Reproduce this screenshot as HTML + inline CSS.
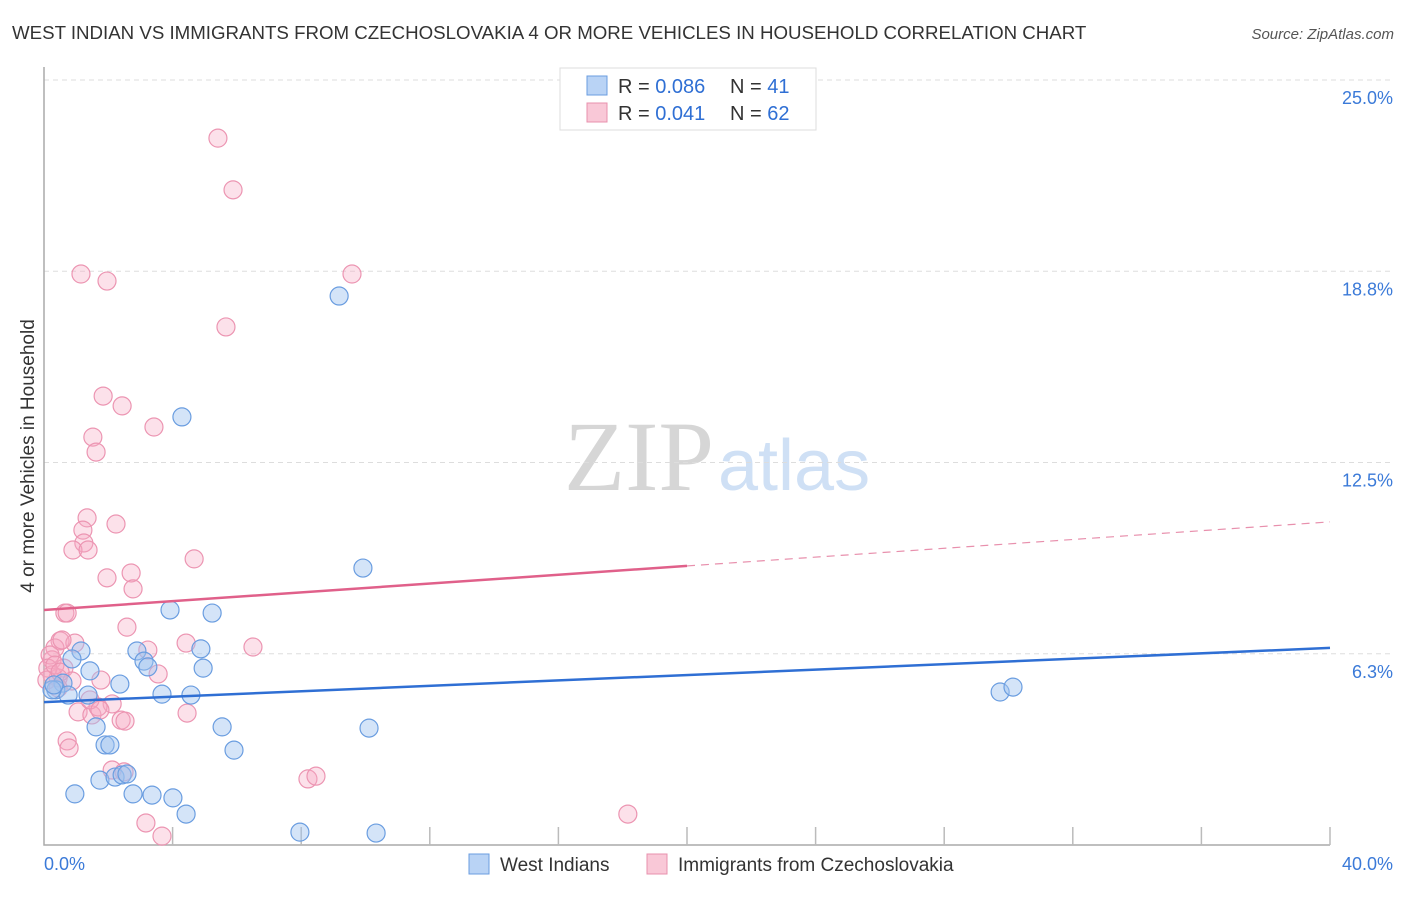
<!DOCTYPE html>
<html><head><meta charset="utf-8"><style>
body{margin:0;background:#fff;font-family:"Liberation Sans",sans-serif;}
</style></head><body>
<svg id="chart" width="1406" height="892" xmlns="http://www.w3.org/2000/svg" font-family="Liberation Sans, sans-serif">
<text x="12" y="39" font-size="18.7" fill="#333">WEST INDIAN VS IMMIGRANTS FROM CZECHOSLOVAKIA 4 OR MORE VEHICLES IN HOUSEHOLD CORRELATION CHART</text>
<text x="1394" y="39" font-size="15" fill="#555" font-style="italic" text-anchor="end">Source: ZipAtlas.com</text>
<text x="714" y="490" font-size="100" fill="#d6d6d6" style="font-family:'Liberation Serif',serif" text-anchor="end">ZIP</text>
<text x="718" y="490" font-size="72" fill="#cfe0f5">atlas</text>
<g id="grid"></g>
<g id="axes"></g>
<g id="marks"></g>
<text x="34" y="456" font-size="19" fill="#333" text-anchor="middle" transform="rotate(-90 34 456)">4 or more Vehicles in Household</text>
<g>
<rect x="560" y="68" width="256" height="62" fill="#fff" stroke="#ddd"/>
<rect x="587" y="76" width="20" height="19" fill="#b9d3f5" stroke="#6a9de0"/>
<rect x="587" y="103" width="20" height="19" fill="#f9c8d7" stroke="#e890ad"/>
<text x="618" y="93" font-size="20" fill="#333">R = <tspan fill="#2f6fd4">0.086</tspan></text>
<text x="730" y="93" font-size="20" fill="#333">N = <tspan fill="#2f6fd4">41</tspan></text>
<text x="618" y="120" font-size="20" fill="#333">R = <tspan fill="#2f6fd4"> 0.041</tspan></text>
<text x="730" y="120" font-size="20" fill="#333">N = <tspan fill="#2f6fd4">62</tspan></text>
</g>
<g>
<rect x="469" y="854" width="20" height="20" fill="#b9d3f5" stroke="#6a9de0"/>
<text x="500" y="871" font-size="19" fill="#333">West Indians</text>
<rect x="647" y="854" width="20" height="20" fill="#f9c8d7" stroke="#e890ad"/>
<text x="678" y="871" font-size="19" fill="#333">Immigrants from Czechoslovakia</text>
</g>
</svg>
<script>
const yTicks=[25,18.75,12.5,6.25];
const yTickLabels=["25.0%","18.8%","12.5%","6.3%"];
const xTicks=[4,8,12,16,20,24,28,32,36,40];
const blueX=[9.18,4.29,9.92,3.92,5.23,4.88,4.95,2.89,3.11,3.23,1.15,0.87,1.43,0.59,0.37,0.75,1.37,2.36,3.67,4.57,1.62,5.54,10.11,1.90,2.05,5.91,29.74,30.14,1.74,2.21,2.43,2.58,0.96,2.77,3.36,4.01,4.42,7.96,10.33,0.25,0.31];
const blueY=[17.94,13.99,9.05,7.68,7.58,6.41,5.78,6.34,6.01,5.82,6.34,6.08,5.69,5.29,5.07,4.90,4.90,5.26,4.93,4.90,3.86,3.86,3.82,3.27,3.27,3.10,5.0,5.16,2.12,2.22,2.29,2.32,1.67,1.67,1.63,1.54,1.01,0.42,0.39,5.07,5.23];
const pinkX=[5.41,5.88,1.15,1.96,9.58,5.66,1.84,2.43,1.52,1.62,3.42,1.34,2.24,1.21,1.24,0.90,1.37,2.71,2.77,1.96,4.67,0.65,0.72,2.58,3.23,4.42,6.50,0.50,0.96,0.34,0.25,0.62,0.25,0.44,0.87,1.77,3.55,1.06,1.49,2.12,1.68,2.40,2.52,4.45,0.72,0.78,2.12,2.49,8.21,8.46,18.16,3.17,3.67,0.19,0.12,0.09,0.34,0.50,0.44,0.56,1.43,1.74];
const pinkY=[23.10,21.41,18.66,18.43,18.66,16.93,14.67,14.35,13.33,12.84,13.66,10.69,10.49,10.29,9.87,9.64,9.64,8.89,8.37,8.73,9.35,7.58,7.58,7.12,6.37,6.60,6.47,6.67,6.60,6.44,6.05,5.78,5.56,5.46,5.36,5.39,5.59,4.35,4.25,4.61,4.51,4.08,4.05,4.31,3.40,3.17,2.45,2.39,2.16,2.25,1.01,0.72,0.29,6.21,5.78,5.39,5.88,5.65,5.13,6.70,4.74,4.41];
const blueTrend=[4.67,6.44];
const pinkTrend=[7.68,10.56];
const pinkSolidEnd=20;
const NS="http://www.w3.org/2000/svg";
const sx=v=>44+v*(1286/40);
const sy=v=>845-v*30.6;
function mk(tag,attrs,parent){const e=document.createElementNS(NS,tag);for(const k in attrs)e.setAttribute(k,attrs[k]);parent.appendChild(e);return e;}
const grid=document.getElementById('grid'),axes=document.getElementById('axes'),marks=document.getElementById('marks');
yTicks.forEach((t,i)=>{
 const l=mk('line',{x1:44,x2:1394,y1:sy(t),y2:sy(t),stroke:'#ddd','stroke-dasharray':'5,4'},grid);
 
 
 const tx=mk('text',{x:1393,y:sy(t)+24,'font-size':18,fill:'#3b7ad8','text-anchor':'end'},axes);
 tx.textContent=yTickLabels[i];
 
 
});
const ax=mk('path',{d:`M44 67 V${sy(0)} H${sx(40)}`,fill:'none',stroke:'#aaa','stroke-width':1.5},axes);


xTicks.forEach(t=>{
 const l=mk('line',{x1:sx(t),x2:sx(t),y1:sy(0)-18,y2:sy(0),stroke:'#bbb','stroke-width':1.5},axes);
 
 
});
const xl0=mk('text',{x:44,y:870,'font-size':18,fill:'#3b7ad8'},axes);xl0.textContent='0.0%';


const xl1=mk('text',{x:1393,y:870,'font-size':18,fill:'#3b7ad8','text-anchor':'end'},axes);xl1.textContent='40.0%';


pinkX.forEach((x,i)=>{
 const c=mk('circle',{cx:sx(x),cy:sy(pinkY[i]),r:9,fill:'rgba(245,170,195,0.35)',stroke:'#ec95b2','stroke-width':1.2},marks);
 
 
});
blueX.forEach((x,i)=>{
 const c=mk('circle',{cx:sx(x),cy:sy(blueY[i]),r:9,fill:'rgba(160,196,240,0.45)',stroke:'#6a9de0','stroke-width':1.2},marks);
 
 
});
const pm=pinkTrend[0]+(pinkTrend[1]-pinkTrend[0])*pinkSolidEnd/40;
const p1=mk('line',{x1:sx(0),y1:sy(pinkTrend[0]),x2:sx(pinkSolidEnd),y2:sy(pm),stroke:'#e0608a','stroke-width':2.5},marks);


const p2=mk('line',{x1:sx(pinkSolidEnd),y1:sy(pm),x2:sx(40),y2:sy(pinkTrend[1]),stroke:'#e890ad','stroke-width':1.2,'stroke-dasharray':'8,6'},marks);


const b1=mk('line',{x1:sx(0),y1:sy(blueTrend[0]),x2:sx(40),y2:sy(blueTrend[1]),stroke:'#2f6fd4','stroke-width':2.5},marks);


</script>
</body></html>
